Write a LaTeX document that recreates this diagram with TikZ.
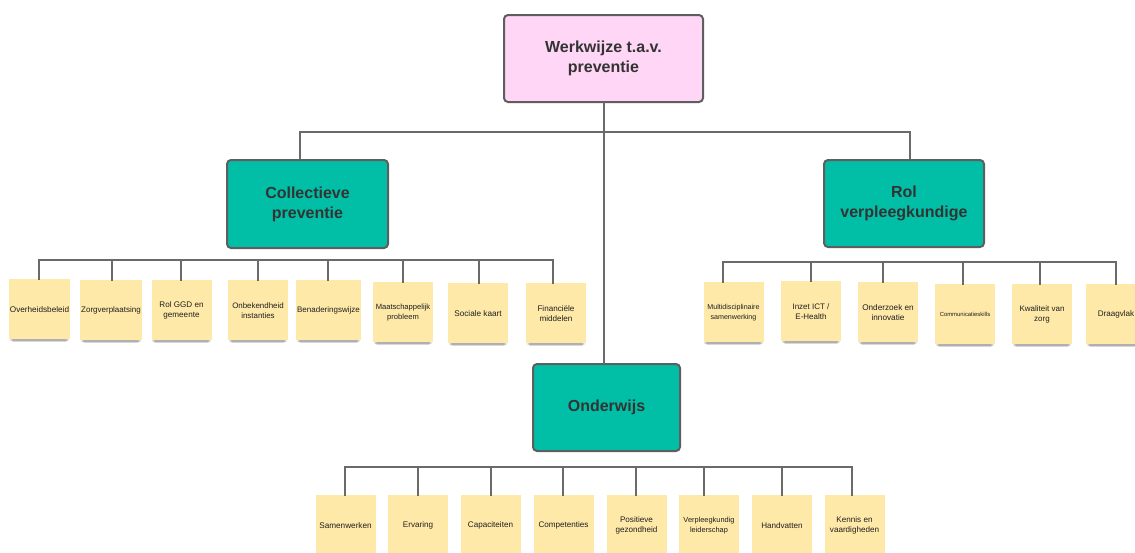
\documentclass[tikz,border=0pt]{standalone}
\usepackage{fontspec}
\setmainfont{Liberation Sans}
\usetikzlibrary{shadows}
\definecolor{pinkfill}{HTML}{FFD6F5}
\definecolor{tealfill}{HTML}{00BFA6}
\definecolor{sticky}{HTML}{FFE9A8}
\definecolor{edgec}{HTML}{5E5E5E}
\definecolor{linec}{HTML}{6A6A6A}
\definecolor{txtc}{HTML}{333333}
\tikzset{
  mainbox/.style={draw=edgec, line width=2pt, rounded corners=4pt, align=center,
    font=\bfseries\fontsize{16}{20}\selectfont, text=txtc, inner sep=0pt},
  notebox/.style={fill=sticky, minimum width=60pt, minimum height=60pt, inner sep=1pt,
    align=center, text=black!88,
    general shadow={shadow xshift=0pt, shadow yshift=-7pt, shadow scale=0.88, opacity=0.07, fill=black},
    general shadow={shadow xshift=0pt, shadow yshift=-5.5pt, shadow scale=0.91, opacity=0.09, fill=black},
    general shadow={shadow xshift=0pt, shadow yshift=-4pt, shadow scale=0.94, opacity=0.11, fill=black},
    general shadow={shadow xshift=0pt, shadow yshift=-2.5pt, shadow scale=0.97, opacity=0.08, fill=black}},
  conn/.style={draw=linec, line width=2pt, line cap=rect},
}
\begin{document}
\begin{tikzpicture}[x=1pt,y=-1pt]
\useasboundingbox (0,0) rectangle (1135,552);
\fill[white] (0,0) rectangle (1135,552);

% main nodes
\node[mainbox, fill=pinkfill, minimum width=199pt, minimum height=87pt] (top) at (603.5,58.5) {Werkwijze t.a.v.\\preventie};
\node[mainbox, fill=tealfill, minimum width=161pt, minimum height=88pt] (coll) at (307.5,204) {Collectieve\\preventie};
\node[mainbox, fill=tealfill, minimum width=160pt, minimum height=87pt] (rol) at (904,203.5) {Rol\\verpleegkundige};
\node[mainbox, fill=tealfill, minimum width=147pt, minimum height=87pt] (ond) at (606.5,407.5) {Onderwijs};

% top connectors
\coordinate (hl) at (300,132);
\coordinate (hr) at (910,132);
\draw[conn] (top.south) -- (top.south |- ond.north);
\draw[conn, line cap=butt] (hl |- coll.north) -- (hl) -- (hr) -- (hr |- rol.north);

% Collectieve preventie children
\foreach \n/\cx/\ty/\sx/\fs/\t in {
  1/39.5/279/39/8.2/{Overheidsbeleid},
  2/111/280/112/8.0/{Zorgverplaatsing},
  3/181.5/280/181/8.1/{Rol GGD en\\gemeente},
  4/258/280/258/7.9/{Onbekendheid\\instanties},
  5/328.5/280/328/8.0/{Benaderingswijze},
  6/403/282/403/7.6/{Maatschappelijk\\probleem},
  7/478/283/479/8.2/{Sociale kaart},
  8/556/283/553/8.1/{Financiële\\middelen}} {
  \node[notebox, anchor=north, font=\fontsize{\fs}{10}\selectfont] (a\n) at (\cx,\ty) {\t};
  \coordinate (sa\n) at (\sx,260);
  \draw[conn] (sa\n) -- (sa\n |- a\n.north);
}
\draw[conn] (sa1) -- (sa8);

% Rol verpleegkundige children
\foreach \n/\cx/\ty/\sx/\fs/\t in {
  1/733.5/282/723/7.1/{Multidisciplinaire\\samenwerking},
  2/811/281/811/8.0/{Inzet ICT /\\E-Health},
  3/888/282/883/8.2/{Onderzoek en\\innovatie},
  4/965/284/963/5.9/{Communicatieskills},
  5/1042/284/1040/8.0/{Kwaliteit van\\zorg},
  6/1116/284/1116/8.1/{Draagvlak}} {
  \node[notebox, anchor=north, font=\fontsize{\fs}{10}\selectfont] (b\n) at (\cx,\ty) {\t};
  \coordinate (sb\n) at (\sx,262);
  \draw[conn] (sb\n) -- (sb\n |- b\n.north);
}
\draw[conn] (sb1) -- (sb6);

% Onderwijs children
\foreach \n/\cx/\sx/\fs/\t in {
  1/345.5/345/8.2/{Samenwerken},
  2/418/418/8.1/{Ervaring},
  3/490.5/491/8.1/{Capaciteiten},
  4/563.5/563/8.1/{Competenties},
  5/636.5/636/8.1/{Positieve\\gezondheid},
  6/709/704/7.4/{Verpleegkundig\\leiderschap},
  7/782/782/8.1/{Handvatten},
  8/854.5/852/8.1/{Kennis en\\vaardigheden}} {
  \node[notebox, anchor=north, font=\fontsize{\fs}{10}\selectfont] (c\n) at (\cx,495) {\t};
  \coordinate (sc\n) at (\sx,467);
  \draw[conn] (sc\n) -- (sc\n |- c\n.north);
}
\draw[conn] (sc1) -- (sc8);
\end{tikzpicture}
\end{document}
